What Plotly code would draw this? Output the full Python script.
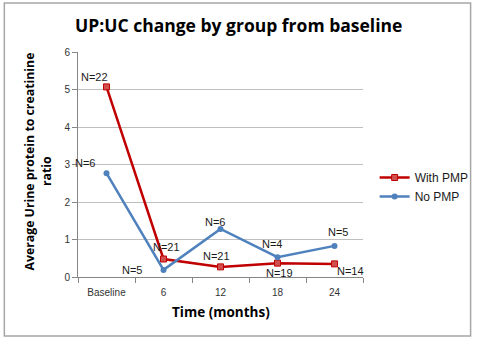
import plotly.graph_objects as go

categories = ["Baseline", "6", "12", "18", "24"]
with_pmp = [5.07, 0.48, 0.27, 0.37, 0.35]
no_pmp = [2.77, 0.19, 1.28, 0.53, 0.83]
with_pmp_n = ["N=22", "N=21", "N=21", "N=19", "N=14"]
no_pmp_n = ["N=6", "N=5", "N=6", "N=4", "N=5"]

# label offsets (pixels) relative to each point
with_off = [(-12, 10), (3, 12), (-4, 11), (2, -10), (16, -7)]
no_off = [(-21, 10), (-31, 0), (-5, 7), (-5, 13), (4, 14)]

RED = "#C00000"
BLUE = "#4F81BD"

fig = go.Figure()
fig.add_trace(go.Scatter(
    x=categories, y=with_pmp, name="With PMP", mode="lines+markers",
    line=dict(color=RED, width=2.5),
    marker=dict(symbol="square", size=6, color="#D05050", line=dict(color=RED, width=1)),
))
fig.add_trace(go.Scatter(
    x=categories, y=no_pmp, name="No PMP", mode="lines+markers",
    line=dict(color=BLUE, width=2.5),
    marker=dict(symbol="circle", size=6, color=BLUE),
))

lab_font = dict(size=11, color="#1a1a1a", family="Liberation Sans")
annotations = []
for i, (v, t, (dx, dy)) in enumerate(zip(with_pmp, with_pmp_n, with_off)):
    annotations.append(dict(x=i, y=v, text=t, showarrow=False, xshift=dx, yshift=dy,
                            xanchor="center", yanchor="middle", font=lab_font))
for i, (v, t, (dx, dy)) in enumerate(zip(no_pmp, no_pmp_n, no_off)):
    annotations.append(dict(x=i, y=v, text=t, showarrow=False, xshift=dx, yshift=dy,
                            xanchor="center", yanchor="middle", font=lab_font))

title_font = dict(size=13.5, color="#000000", family="Open Sans")
ytitle_font = dict(size=12.3, color="#000000", family="Open Sans")
annotations.append(dict(
    x=(27 - 78) / 294, y=(277 - 162) / 225, xref="paper", yref="paper", textangle=-90,
    xanchor="center", yanchor="middle",
    text="<b>Average Urine protein to creatinine</b>", showarrow=False, font=ytitle_font))
annotations.append(dict(
    x=(45 - 78) / 294, y=(277 - 171) / 225, xref="paper", yref="paper", textangle=-90,
    xanchor="center", yanchor="middle",
    text="<b>ratio</b>", showarrow=False, font=ytitle_font))
annotations.append(dict(
    x=(226 - 78) / 294, y=(277 - 312) / 225, xref="paper", yref="paper",
    xanchor="center", yanchor="middle",
    text="<b>Time (months)</b>", showarrow=False, font=title_font))
annotations.append(dict(
    x=(244 - 78) / 294, y=(277 - 25) / 225, xref="paper", yref="paper",
    xanchor="center", yanchor="middle",
    text="<b>UP:UC change by group from baseline</b>", showarrow=False,
    font=dict(size=17.5, color="#000000", family="Open Sans")))

fig.update_layout(
    width=486, height=339,
    margin=dict(l=78, r=112, t=52, b=62),
    paper_bgcolor="white", plot_bgcolor="white",
    showlegend=True,
    legend=dict(x=(384 - 78) / 294, y=(277 - 163) / 225, xanchor="left", yanchor="top",
                font=dict(size=12, color="#1a1a1a", family="Liberation Sans"),
                tracegroupgap=12, itemwidth=30, bgcolor="rgba(0,0,0,0)"),
    annotations=annotations,
    shapes=[dict(type="rect", xref="paper", yref="paper",
                 x0=(2 - 78) / 294, x1=(483 - 78) / 294,
                 y0=(277 - 336) / 225, y1=(277 - 3) / 225,
                 line=dict(color="#A6A6A6", width=1.5))],
)
fig.update_xaxes(
    type="category", range=[-0.5, 4.5], showgrid=False,
    showline=True, linecolor="#868686", linewidth=1,
    ticks="outside", tickson="boundaries", ticklen=5, tickcolor="#868686",
    tickfont=dict(size=10, color="#333333", family="Liberation Sans"),
    ticklabelstandoff=6,
)
fig.update_yaxes(
    range=[0, 6], dtick=1, showgrid=True, gridcolor="#BFBFBF", gridwidth=1,
    showline=True, linecolor="#868686", linewidth=1, zeroline=False,
    ticks="outside", ticklen=5, tickcolor="#868686",
    tickfont=dict(size=10, color="#333333", family="Liberation Sans"),
)

fig.write_html("out.html")
